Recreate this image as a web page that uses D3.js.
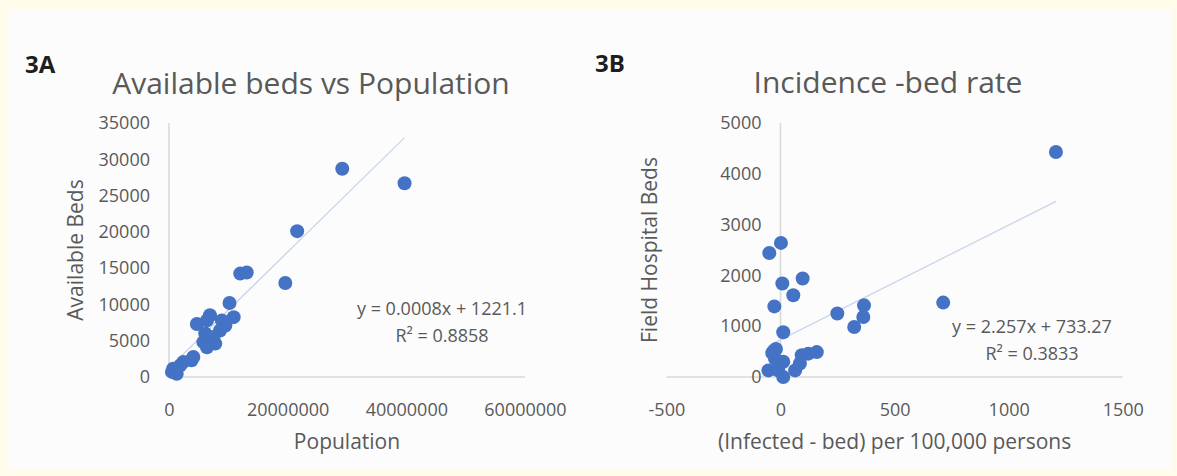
<!DOCTYPE html>
<html>
<head>
<meta charset="utf-8">
<script src="https://cdn.jsdelivr.net/npm/d3@7"></script>
<style>
  html, body { margin: 0; padding: 0; background: #fffbea; }
  svg { display: block; }
  text { font-family: "Open Sans", "Noto Sans", sans-serif; }
</style>
</head>
<body>
<svg id="chart" width="1177" height="476"></svg>
<script>
// Panel 3A: province population vs available hospital beds
const populationA = [29200000, 39700000, 21600000, 19600000, 12000000, 13100000, 10200000,
  10900000, 6900000, 4700000, 6400000, 8900000, 9500000, 8600000, 6100000, 6400000,
  7500000, 5800000, 7800000, 6400000, 4100000, 3800000, 2400000, 1900000, 700000,
  500000, 1300000];
const bedsA = [28700, 26700, 20100, 12950, 14250, 14400, 10200,
  8250, 8500, 7300, 7800, 7800, 7100, 6400, 6000, 5300,
  5500, 4800, 4600, 4100, 2750, 2300, 2050, 1600, 1150,
  700, 450];
const xTicksA = [0, 20000000, 40000000, 60000000];
const yTicksA = [0, 5000, 10000, 15000, 20000, 25000, 30000, 35000];
const fitA = { slope: 0.0008, intercept: 1221.1, r2: "0.8858" };

// Panel 3B: (infected - bed) per 100,000 persons vs field hospital beds
const incidenceB = [-49, 2, 8, 97, 56, -27, 249, 366, 363, 323, 12, 713, 1207,
  -32, -24, -53, -10, 12, 12, 64, 85, 93, 122, 159, -20, -36];
const bedsB = [2440, 2640, 1840, 1940, 1610, 1390, 1250, 1410, 1180, 985, 880, 1465, 4430,
  500, 360, 130, 130, 300, 0, 130, 265, 430, 460, 490, 550, 470];
const xTicksB = [-500, 0, 500, 1000, 1500];
const yTicksB = [0, 1000, 2000, 3000, 4000, 5000];
const fitB = { slope: 2.257, intercept: 733.27, r2: "0.3833" };

const svg = d3.select("#chart");
const AXIS = "#d9d9d9", TEXT = "#595959", DOT = "#4472c4", TREND = "#c9d5ee";
// plain integers with an ASCII hyphen for negatives
const fmt = d3.formatLocale({ decimal: ".", thousands: "", grouping: [3], currency: ["", ""], minus: "-" }).format("d");

// white panel behind both charts
svg.append("rect").attr("x", 7).attr("y", 9).attr("width", 1164).attr("height", 460)
  .attr("fill", "#fcfcfc");

function panel(cfg) {
  const g = svg.append("g");
  const x = d3.scaleLinear().domain(cfg.xDomain).range(cfg.xRange);
  const y = d3.scaleLinear().domain(cfg.yDomain).range(cfg.yRange);
  const x0 = x(0), y0 = y(0);

  // axis lines (value axis crosses at zero)
  g.append("line").attr("x1", x0).attr("x2", x0)
    .attr("y1", y(cfg.yDomain[1])).attr("y2", y0)
    .attr("stroke", AXIS).attr("stroke-width", 1.6);
  g.append("line").attr("x1", x(cfg.xDomain[0])).attr("x2", x(cfg.xDomain[1]))
    .attr("y1", y0).attr("y2", y0)
    .attr("stroke", AXIS).attr("stroke-width", 1.6);

  // tick labels via d3 axes, lines hidden
  const yAxis = g.append("g").attr("transform", `translate(${x0 - 7},0)`)
    .call(d3.axisLeft(y).tickValues(cfg.yTicks).tickFormat(fmt).tickSize(0).tickPadding(12));
  const xAxis = g.append("g").attr("transform", `translate(0,${y0 + 14})`)
    .call(d3.axisBottom(x).tickValues(cfg.xTicks).tickFormat(fmt).tickSize(0).tickPadding(12));
  [yAxis, xAxis].forEach(a => {
    a.select(".domain").remove();
    a.selectAll("text").attr("fill", TEXT).style("font-size", "18px")
      .style("font-family", '"Open Sans", sans-serif');
  });

  // linear trendline over the data range
  const xs = d3.extent(cfg.xs);
  g.append("line")
    .attr("x1", x(xs[0])).attr("y1", y(cfg.fit.slope * xs[0] + cfg.fit.intercept))
    .attr("x2", x(xs[1])).attr("y2", y(cfg.fit.slope * xs[1] + cfg.fit.intercept))
    .attr("stroke", TREND).attr("stroke-width", 1.3);

  // data markers
  g.selectAll("circle.pt").data(cfg.xs.map((v, i) => [v, cfg.ys[i]])).join("circle")
    .attr("class", "pt")
    .attr("cx", d => x(d[0])).attr("cy", d => y(d[1])).attr("r", 7)
    .attr("fill", DOT);

  // regression equation and R²
  const eq = g.append("text").attr("x", cfg.eqPos[0]).attr("y", cfg.eqPos[1])
    .attr("text-anchor", "middle").attr("fill", TEXT).style("font-size", "18px");
  eq.append("tspan").attr("x", cfg.eqPos[0])
    .text(`y = ${cfg.fit.slope}x + ${cfg.fit.intercept}`);
  eq.append("tspan").attr("x", cfg.eqPos[0]).attr("dy", 27)
    .text(`R² = ${cfg.fit.r2}`);

  // titles
  g.append("text").attr("x", cfg.titlePos[0]).attr("y", cfg.titlePos[1])
    .attr("text-anchor", "middle").attr("fill", TEXT).style("font-size", "30px")
    .text(cfg.title);
  g.append("text").attr("x", cfg.tagPos[0]).attr("y", cfg.tagPos[1])
    .attr("fill", "#1e1e1e").style("font-size", "24px").style("font-weight", 700)
    .text(cfg.tag);
  g.append("text").attr("x", (cfg.xRange[0] + cfg.xRange[1]) / 2).attr("y", 449)
    .attr("text-anchor", "middle").attr("fill", TEXT).style("font-size", "21px")
    .text(cfg.xLabel);
  g.append("text")
    .attr("transform", `translate(${cfg.yLabelX},${(cfg.yRange[0] + cfg.yRange[1]) / 2}) rotate(-90)`)
    .attr("text-anchor", "middle").attr("dy", "0.35em").attr("fill", TEXT).style("font-size", "21px")
    .text(cfg.yLabel);
}

panel({
  xs: populationA, ys: bedsA, fit: fitA,
  xDomain: [0, 60000000], xRange: [169, 525],
  yDomain: [0, 35000], yRange: [377, 123],
  xTicks: xTicksA, yTicks: yTicksA,
  eqPos: [442, 315], titlePos: [311, 94], tagPos: [25, 73],
  title: "Available beds vs Population", tag: "3A",
  xLabel: "Population", yLabel: "Available Beds", yLabelX: 76
});

panel({
  xs: incidenceB, ys: bedsB, fit: fitB,
  xDomain: [-500, 1500], xRange: [666.4, 1122.8],
  yDomain: [0, 5000], yRange: [377, 123],
  xTicks: xTicksB, yTicks: yTicksB,
  eqPos: [1032, 333], titlePos: [888, 93], tagPos: [595, 72],
  title: "Incidence -bed rate", tag: "3B",
  xLabel: "(Infected - bed) per 100,000 persons", yLabel: "Field Hospital Beds", yLabelX: 650
});
</script>
</body>
</html>
